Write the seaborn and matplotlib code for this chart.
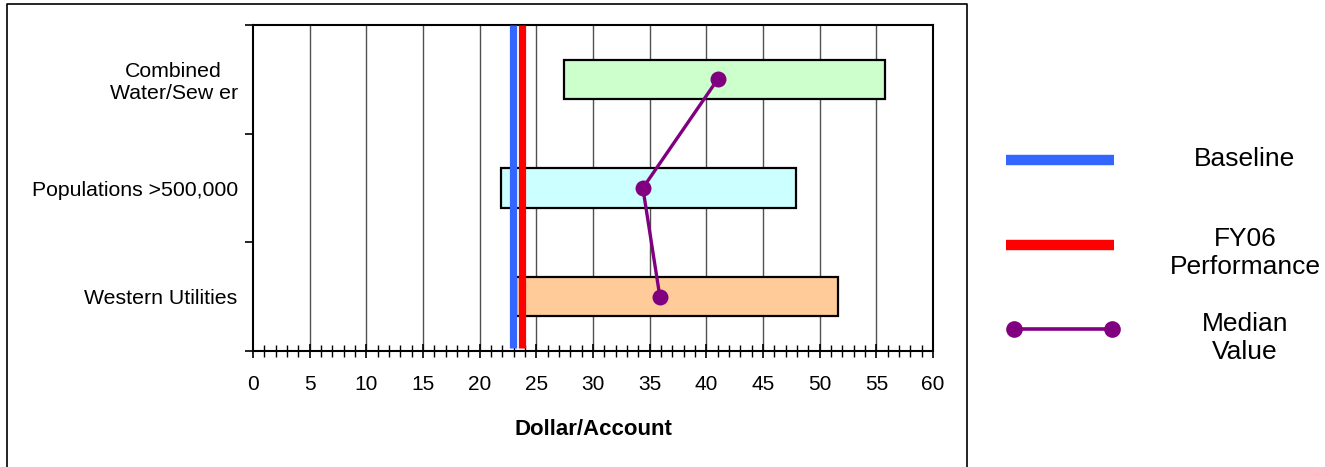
import numpy as np
import pandas as pd
import matplotlib
matplotlib.use("Agg")
import matplotlib.pyplot as plt
from matplotlib.lines import Line2D
import seaborn as sns

# data
categories = ["Combined\nWater/Sew er", "Populations >500,000", "Western Utilities"]
range_low = [27.4, 21.9, 23.2]
range_high = [55.8, 47.9, 51.6]
median_value = [41.0, 34.4, 35.9]
bar_colors = ["#CCFFCC", "#CCFFFF", "#FFCC99"]
baseline = 22.9
fy06 = 23.75

sns.set_theme(style="white")
plt.rcParams["font.family"] = ["Liberation Sans", "DejaVu Sans"]
plt.rcParams.update({"text.color": "black", "axes.labelcolor": "black",
                     "xtick.color": "black", "ytick.color": "black",
                     "lines.solid_capstyle": "butt"})

W, H = 1325, 467
fig = plt.figure(figsize=(W / 100, H / 100), dpi=100)
ax = fig.add_axes([253 / W, 1 - 351 / H, (933 - 253) / W, (351 - 25) / H])

pos = np.arange(len(categories))
df = pd.DataFrame({"cat": categories, "pos": pos, "lo": range_low,
                   "hi": range_high, "med": median_value})

# vertical grid
ax.set_xlim(0, 60)
ax.set_ylim(2.5, -0.5)
for gx in range(5, 60, 5):
    ax.axvline(gx, color="#505050", lw=1.0, zorder=0)

# floating range bars
ax.barh(df["pos"], df["hi"] - df["lo"], left=df["lo"], height=0.36,
        color=bar_colors, edgecolor="black", linewidth=1.6, zorder=2)

# baseline / FY06 lines
ax.axvline(baseline, ymin=0.01, ymax=1, color="#3366FF", lw=5.2, zorder=3)
ax.axvline(fy06, ymin=0.01, ymax=1, color="#FF0000", lw=5.2, zorder=3)

# median line
sns.lineplot(data=df, x="med", y="pos", sort=False, color="#800080",
             lw=2.4, marker="o", markersize=11.5, markeredgewidth=0,
             ax=ax, zorder=4)

# axes styling
ax.set_xticks(range(0, 61, 5))
ax.set_xticks(range(0, 61, 1), minor=True)
ax.tick_params(axis="x", which="major", direction="inout", length=10,
               width=1.2, colors="black", labelsize=15, pad=12, bottom=True)
ax.tick_params(axis="x", which="minor", direction="inout", length=8,
               width=1.0, colors="black", bottom=True)
ax.set_yticks([-0.5, 0.5, 1.5, 2.5])
ax.set_yticklabels([])
ax.set_yticks(pos, minor=True)
ax.set_yticklabels(categories, minor=True, multialignment="center")
ax.tick_params(axis="y", which="major", direction="out", length=6,
               width=1.2, colors="black", left=True)
ax.tick_params(axis="y", which="minor", length=0, labelsize=15.3, pad=11)
ax.set_xlabel("Dollar/Account", fontsize=16, fontweight="bold", labelpad=18)
ax.set_ylabel("")
for s in ax.spines.values():
    s.set_color("black")
    s.set_linewidth(1.5)

# legend and outer frame drawn in pixel space
lax = fig.add_axes([0, 0, 1, 1])
lax.set_xlim(0, W)
lax.set_ylim(H, 0)
lax.axis("off")
lax.plot([7, 7, 967, 967], [480, 4, 4, 480], color="black", lw=1.2)
lax.add_line(Line2D([1006, 1114], [160, 160], color="#3366FF", lw=7.5))
lax.add_line(Line2D([1006, 1114], [245, 245], color="#FF0000", lw=7.5))
lax.add_line(Line2D([1014, 1112], [329, 329], color="#800080", lw=2.6,
                    marker="o", markersize=12, markeredgewidth=0))
lax.text(1245, 159, "Baseline", ha="center", va="center", fontsize=19)
lax.text(1245, 253, "FY06\nPerformance", ha="center", va="center",
         fontsize=19, multialignment="center")
lax.text(1245, 338, "Median\nValue", ha="center", va="center",
         fontsize=19, multialignment="center")

plt.savefig("out.png", dpi=100)
